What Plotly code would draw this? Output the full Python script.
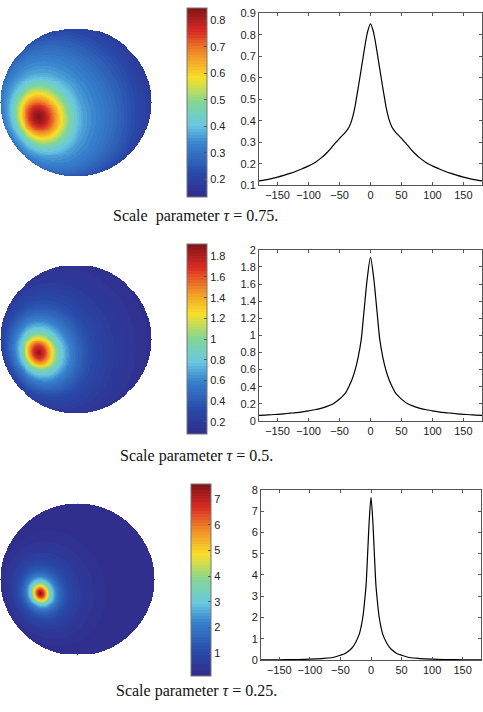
import numpy as np
import plotly.graph_objects as go

# ---------------- data ----------------
# angular profile: angle from the peak direction (deg) -> value
ang1 = [0, 5, 10, 15, 20, 23, 25, 30, 35, 40, 50, 60, 70, 80, 90, 100, 110, 120, 130, 140, 150, 160, 170, 180]
val1 = [0.85, 0.81, 0.73, 0.64, 0.55, 0.50, 0.465, 0.405, 0.368, 0.348, 0.318, 0.285, 0.252, 0.226, 0.205, 0.19,
        0.177, 0.165, 0.155, 0.146, 0.138, 0.131, 0.125, 0.12]

ang2 = [0, 5, 10, 15, 20, 25, 30, 35, 40, 45, 50, 60, 70, 80, 90, 100, 110, 120, 130, 140, 150, 160, 170, 180]
val2 = [1.91, 1.68, 1.32, 0.95, 0.74, 0.59, 0.48, 0.40, 0.33, 0.29, 0.255, 0.20, 0.17, 0.147, 0.13, 0.118,
        0.106, 0.097, 0.09, 0.083, 0.077, 0.072, 0.068, 0.065]

ang3 = [0, 3, 5, 8, 10, 13, 16, 19, 25, 30, 35, 43, 50, 65, 80, 100, 120, 140, 160, 180]
val3 = [7.64, 6.5, 5.3, 3.55, 2.9, 2.1, 1.6, 1.24, 0.85, 0.62, 0.47, 0.31, 0.24, 0.12, 0.08, 0.05, 0.035,
        0.028, 0.023, 0.02]

# peak location on the visible disc (fraction of radius; x right, y up)
spot1 = (-0.49, -0.20)
spot2 = (-0.49, -0.18)
spot3 = (-0.48, -0.18)

# colour limits of the colorbars
clim1 = (0.133, 0.848)
clim2 = (0.086, 1.92)
clim3 = (0.12, 7.6)

cb_ticks1 = [0.2, 0.3, 0.4, 0.5, 0.6, 0.7, 0.8]
cb_text1 = ["0.2", "0.3", "0.4", "0.5", "0.6", "0.7", "0.8"]
cb_ticks2 = [0.2, 0.4, 0.6, 0.8, 1.0, 1.2, 1.4, 1.6, 1.8]
cb_text2 = ["0.2", "0.4", "0.6", "0.8", "1", "1.2", "1.4", "1.6", "1.8"]
cb_ticks3 = [1, 2, 3, 4, 5, 6, 7]
cb_text3 = ["1", "2", "3", "4", "5", "6", "7"]

x_ticks = [-150, -100, -50, 0, 50, 100, 150]
x_text = ["\u2212150", "\u2212100", "\u221250", "0", "50", "100", "150"]

y_ticks1 = [0.1, 0.2, 0.3, 0.4, 0.5, 0.6, 0.7, 0.8, 0.9]
y_text1 = ["0.1", "0.2", "0.3", "0.4", "0.5", "0.6", "0.7", "0.8", "0.9"]
y_ticks2 = [0, 0.2, 0.4, 0.6, 0.8, 1.0, 1.2, 1.4, 1.6, 1.8, 2.0]
y_text2 = ["0", "0.2", "0.4", "0.6", "0.8", "1", "1.2", "1.4", "1.6", "1.8", "2"]
y_ticks3 = [0, 1, 2, 3, 4, 5, 6, 7, 8]
y_text3 = ["0", "1", "2", "3", "4", "5", "6", "7", "8"]

y_ranges = [(0.1, 0.9), (0, 2), (0, 8)]

captions = ["Scale&nbsp; parameter <i>\u03c4</i> = 0.75.",
            "Scale parameter <i>\u03c4</i> = 0.5.",
            "Scale parameter <i>\u03c4</i> = 0.25."]

# ---------------- styling ----------------
W, H = 483, 712
anchors = [(0.0, (50, 45, 140)), (0.12, (40, 72, 168)), (0.28, (55, 130, 205)),
           (0.38, (105, 200, 225)), (0.5, (130, 214, 150)), (0.63, (248, 224, 40)),
           (0.76, (240, 140, 40)), (0.88, (218, 42, 36)), (1.0, (128, 20, 22))]


def interp_color(t):
    for (t0, c0), (t1, c1) in zip(anchors[:-1], anchors[1:]):
        if t <= t1:
            f = (t - t0) / (t1 - t0)
            return tuple(int(round(a + f * (b - a))) for a, b in zip(c0, c1))
    return anchors[-1][1]


NB = 64
cscale = []
for i in range(NB):
    c = interp_color((i + 0.5) / NB)
    col = "rgb(%d,%d,%d)" % c
    cscale.append([i / NB, col])
    cscale.append([(i + 1) / NB, col])


def disc(ang, val, spot, n=155):
    g = np.linspace(-1, 1, n)
    X, Y = np.meshgrid(g, g)
    R2 = X ** 2 + Y ** 2
    Z = np.sqrt(np.clip(1 - R2, 0, None))
    sx, sy = spot
    p = np.array([sx, sy, np.sqrt(1 - sx ** 2 - sy ** 2)])
    cosang = np.clip(X * p[0] + Y * p[1] + Z * p[2], -1, 1)
    a = np.degrees(np.arccos(cosang))
    v = np.interp(a, ang, val)
    v[R2 > 1] = np.nan
    return g, v


def px_dom_x(a, b):
    return [a / W, b / W]


def px_dom_y(top, bottom):
    return [1 - bottom / H, 1 - top / H]


FONT = "Liberation Sans, Arial, sans-serif"

rows = [
    dict(ang=ang1, val=val1, spot=spot1, clim=clim1, cbt=cb_ticks1, cbx=cb_text1,
         yt=y_ticks1, ytx=y_text1, disc_x=(0, 152), disc_y=(22, 174), cb_x=187, cb_y=(2, 194),
         lx=(259, 482), ly=(7.3, 182.3), cap=(195, 214)),
    dict(ang=ang2, val=val2, spot=spot2, clim=clim2, cbt=cb_ticks2, cbx=cb_text2,
         yt=y_ticks2, ytx=y_text2, disc_x=(0, 152), disc_y=(263, 415), cb_x=187, cb_y=(242, 435),
         lx=(259, 482), ly=(248, 422), cap=(196, 458)),
    dict(ang=ang3, val=val3, spot=spot3, clim=clim3, cbt=cb_ticks3, cbx=cb_text3,
         yt=y_ticks3, ytx=y_text3, disc_x=(0, 155), disc_y=(506, 661), cb_x=191, cb_y=(486, 681),
         lx=(261, 481), ly=(492, 665.5), cap=(196, 697)),
]

fig = go.Figure()
layout = dict(width=W, height=H, margin=dict(l=0, r=0, t=0, b=0),
              paper_bgcolor="white", plot_bgcolor="white", showlegend=False,
              font=dict(family=FONT, size=11, color="#222"))
annotations = []

for i, r in enumerate(rows):
    hx = 2 * i + 1
    lx = 2 * i + 2
    g, v = disc(r["ang"], r["val"], r["spot"])
    cb_top, cb_bot = r["cb_y"]
    fig.add_trace(go.Heatmap(
        x=g, y=g, z=v, colorscale=cscale, zmin=r["clim"][0], zmax=r["clim"][1],
        xaxis="x%d" % hx, yaxis="y%d" % hx, hoverinfo="skip",
        colorbar=dict(x=r["cb_x"] / W, xanchor="left", xref="paper",
                      y=1 - (cb_top + cb_bot) / 2 / H, yanchor="middle",
                      len=(cb_bot - cb_top) / H, lenmode="fraction",
                      thickness=20, thicknessmode="pixels", xpad=0, ypad=0,
                      outlinewidth=1, outlinecolor="#777",
                      ticks="inside", ticklen=3, tickcolor="#555",
                      tickvals=r["cbt"], ticktext=r["cbx"],
                      tickfont=dict(family=FONT, size=11, color="#222"))))
    layout["xaxis%d" % hx] = dict(domain=px_dom_x(*r["disc_x"]), range=[-1.0065, 1.0065], visible=False,
                                  anchor="y%d" % hx, fixedrange=True)
    layout["yaxis%d" % hx] = dict(domain=px_dom_y(*r["disc_y"]), range=[-1.0065, 1.0065], visible=False,
                                  anchor="x%d" % hx, fixedrange=True)

    # signed-angle line profile
    xs = [-a for a in r["ang"][::-1]] + r["ang"][1:]
    ys = r["val"][::-1] + r["val"][1:]
    fig.add_trace(go.Scatter(x=xs, y=ys, mode="lines", line=dict(color="black", width=1.2, shape="spline",
                                                                   smoothing=0.8),
                             xaxis="x%d" % lx, yaxis="y%d" % lx, hoverinfo="skip"))
    layout["xaxis%d" % lx] = dict(domain=px_dom_x(*r["lx"]), range=[-180, 180], anchor="y%d" % lx,
                                  tickvals=x_ticks, ticktext=x_text, ticks="inside", ticklen=3,
                                  tickcolor="#555", showline=True, linecolor="#555", linewidth=1,
                                  mirror="allticks", showgrid=False, zeroline=False)
    layout["yaxis%d" % lx] = dict(domain=px_dom_y(*r["ly"]), range=list(y_ranges[i]), anchor="x%d" % lx,
                                  tickvals=r["yt"], ticktext=r["ytx"], ticks="inside", ticklen=3,
                                  tickcolor="#555", showline=True, linecolor="#555", linewidth=1,
                                  mirror="allticks", showgrid=False, zeroline=False)
    cx, cy = r["cap"]
    annotations.append(dict(text=captions[i], x=cx / W, y=1 - cy / H, xref="paper", yref="paper",
                            xanchor="center", yanchor="middle", showarrow=False,
                            font=dict(family="Liberation Serif, Times New Roman, serif", size=16,
                                      color="#111")))

layout["annotations"] = annotations
fig.update_layout(**layout)
fig.write_html("out.html", config={"displayModeBar": False},
               post_script="document.body.style.margin='0';document.body.style.overflow='hidden';")
